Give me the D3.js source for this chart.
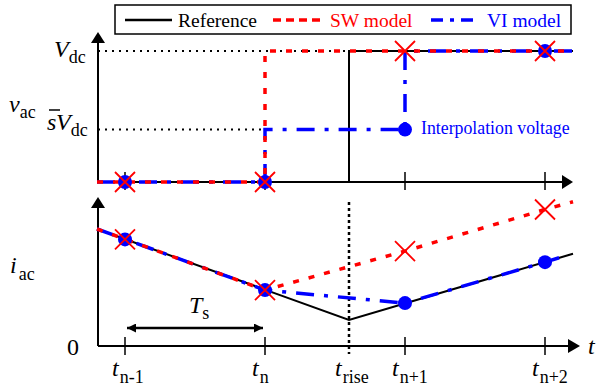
<!DOCTYPE html>
<meta charset="utf-8">
<style>
body { margin: 0; background: #fff; }
text { font-family: "Liberation Serif", "Times New Roman", serif; }
</style>
<svg width="599" height="389"></svg>
<script src="https://d3js.org/d3.v7.min.js"></script>
<script>

// sample instants (t_n-1 = 1, t_n = 2, ...), t_rise between t_n and t_n+1
var sampleTimes = [1, 2, 3, 4];
var sampleLabels = ["n-1", "n", "n+1", "n+2"];
var tRise = 2.6;

// ac voltage (normalised to Vdc)
var refVoltage = [[0.8, 0], [2.6, 0], [2.6, 1], [4.2, 1]];
var swVoltage = [[0.8, 0], [2, 0], [2, 1], [4.2, 1]];
var viVoltage = [[0.8, 0], [2, 0], [2, 0.4], [3, 0.4], [3, 1], [4.2, 1]];
var swVoltageSamples = [0, 0, 1, 1];
var viVoltageSamples = [0, 0, 0.4, 1];
var sVdc = 0.4;

// ac current (arbitrary units)
var refCurrent = [[0.8, 9.0], [2.6, 2.0], [4.2, 7.1]];
var swCurrent = [[0.8, 9.0], [2, 4.3], [3, 7.3], [4, 10.5], [4.2, 11.1]];
var viCurrent = [[0.8, 9.0], [2, 4.3], [3, 3.3], [4, 6.45], [4.15, 6.95]];
var swCurrentSamples = [8.2, 4.3, 7.3, 10.5];
var viCurrentSamples = [8.2, 4.3, 3.3, 6.45];

var svg = d3.select("svg");
var RED = "#ff0000", BLUE = "#0000ff";

var x = d3.scaleLinear().domain([1, 4]).range([125, 545]);
var yV = d3.scaleLinear().domain([0, 1]).range([182, 51]);
var yI = d3.scaleLinear().domain([0, 9]).range([346, 229]);

svg.append("defs").append("marker")
    .attr("id", "head")
    .attr("viewBox", "0 0 10 10")
    .attr("refX", 10).attr("refY", 5)
    .attr("markerWidth", 11).attr("markerHeight", 9)
    .attr("markerUnits", "userSpaceOnUse")
    .attr("orient", "auto-start-reverse")
  .append("path").attr("d", "M0,0L10,5L0,10Z").attr("fill", "#000");

function arrowAxis(x1, y1, x2, y2, tipLen, half) {
  var dx = x2 - x1, dy = y2 - y1, L = Math.sqrt(dx * dx + dy * dy);
  var ux = dx / L, uy = dy / L;
  svg.append("line").attr("x1", x1).attr("y1", y1)
      .attr("x2", x2 - ux * tipLen).attr("y2", y2 - uy * tipLen)
      .attr("stroke", "#000").attr("stroke-width", 2);
  var bx = x2 - ux * tipLen, by = y2 - uy * tipLen;
  svg.append("path")
      .attr("d", "M" + x2 + "," + y2 + "L" + (bx - uy * half) + "," + (by + ux * half) +
                 "L" + (bx + uy * half) + "," + (by - ux * half) + "Z")
      .attr("fill", "#000");
}

var lineV = d3.line().x(function(d) { return x(d[0]); }).y(function(d) { return yV(d[1]); });
var lineI = d3.line().x(function(d) { return x(d[0]); }).y(function(d) { return yI(d[1]); });

// ---- guides
svg.append("line").attr("x1", 98).attr("x2", x(tRise)).attr("y1", yV(1)).attr("y2", yV(1))
    .attr("stroke", "#000").attr("stroke-width", 2).attr("stroke-dasharray", "2,5");
svg.append("line").attr("x1", 98).attr("x2", x(2)).attr("y1", yV(sVdc)).attr("y2", yV(sVdc))
    .attr("stroke", "#000").attr("stroke-width", 2).attr("stroke-dasharray", "2,5");
svg.append("line").attr("x1", x(tRise)).attr("x2", x(tRise)).attr("y1", 202).attr("y2", 354)
    .attr("stroke", "#000").attr("stroke-width", 2.5).attr("stroke-dasharray", "3,3");

// ---- axes
arrowAxis(98, yV(0), 573, yV(0), 11, 7);
arrowAxis(98, yV(0), 98, 32, 11, 7);
arrowAxis(98, yI(0), 580, yI(0), 12, 7);
arrowAxis(98, yI(0), 98, 197, 11, 7);

sampleTimes.forEach(function(t) {
  svg.append("line").attr("x1", x(t)).attr("x2", x(t)).attr("y1", 172).attr("y2", 190)
      .attr("stroke", "#000").attr("stroke-width", 1.5);
  svg.append("line").attr("x1", x(t)).attr("x2", x(t)).attr("y1", 337).attr("y2", 355)
      .attr("stroke", "#000").attr("stroke-width", 1.5);
});

// ---- series
function drawSeries(line, ref, sw, vi) {
  svg.append("path").datum(ref).attr("d", line).attr("fill", "none")
      .attr("stroke", "#000").attr("stroke-width", 2);
  svg.append("path").datum(vi).attr("d", line).attr("fill", "none")
      .attr("stroke", BLUE).attr("stroke-width", 3.5).attr("stroke-dasharray", "18,10,4,10");
  svg.append("path").datum(sw).attr("d", line).attr("fill", "none")
      .attr("stroke", RED).attr("stroke-width", 3.5).attr("stroke-dasharray", "6,10");
}
drawSeries(lineV, refVoltage, swVoltage, viVoltage);
drawSeries(lineI, refCurrent, swCurrent, viCurrent);

function markers(y, viVals, swVals) {
  sampleTimes.forEach(function(t, i) {
    svg.append("circle").attr("cx", x(t)).attr("cy", y(viVals[i])).attr("r", 7).attr("fill", BLUE);
  });
  sampleTimes.forEach(function(t, i) {
    var cx = x(t), cy = y(swVals[i]), s = 10;
    svg.append("path")
        .attr("d", "M" + (cx - s) + "," + (cy - s) + "L" + (cx + s) + "," + (cy + s) +
                   "M" + (cx - s) + "," + (cy + s) + "L" + (cx + s) + "," + (cy - s))
        .attr("stroke", RED).attr("stroke-width", 1.8);
  });
}
markers(yV, viVoltageSamples, swVoltageSamples);
markers(yI, viCurrentSamples, swCurrentSamples);

svg.append("text").attr("x", 421).attr("y", 134).attr("fill", BLUE)
    .attr("font-size", 17.8).text("Interpolation voltage");

// ---- Ts arrow
svg.append("line").attr("x1", x(1) + 2).attr("x2", x(2) - 2).attr("y1", 328).attr("y2", 328)
    .attr("stroke", "#000").attr("stroke-width", 2.5)
    .attr("marker-start", "url(#head)").attr("marker-end", "url(#head)");

// ---- math labels
function sym(px, py, main, sub, size, subSize, dx, dy, color) {
  var t = svg.append("text").attr("x", px).attr("y", py).attr("fill", color || "#000");
  t.append("tspan").attr("font-style", "italic").attr("font-size", size).text(main);
  if (sub) t.append("tspan").attr("font-size", subSize).attr("dx", dx || 0).attr("dy", dy).text(sub);
  return t;
}
sym(54, 57, "V", "dc", 24, 18, 0, 6);
sym(56, 130, "V", "dc", 24, 18, 0, 6);
sym(47, 130, "s", null, 24);
svg.append("line").attr("x1", 49).attr("x2", 60).attr("y1", 110).attr("y2", 110)
    .attr("stroke", "#000").attr("stroke-width", 1.5);
sym(9, 112, "v", "ac", 24, 18, 0, 6);
sym(10, 273, "i", "ac", 24, 18, 2, 7);
svg.append("text").attr("x", 67).attr("y", 355).attr("font-size", 24).text("0");
sym(189, 313, "T", "s", 24, 18, 0, 6);
sym(588, 354, "t", null, 24);

sampleTimes.forEach(function(t, i) {
  sym(x(t) - 13, 376, "t", sampleLabels[i], 24, 18, 1, 7);
});
sym(x(tRise) - 14, 376, "t", "rise", 24, 18, 1, 7);

// ---- legend
var lg = svg.append("g");
lg.append("rect").attr("x", 115).attr("y", 5).attr("width", 456).attr("height", 29)
    .attr("fill", "#fff").attr("stroke", "#000").attr("stroke-width", 1.5);
lg.append("line").attr("x1", 125).attr("x2", 172).attr("y1", 20).attr("y2", 20)
    .attr("stroke", "#000").attr("stroke-width", 2.5);
lg.append("text").attr("x", 178).attr("y", 27).attr("font-size", 19.5).text("Reference");
lg.append("line").attr("x1", 273).attr("x2", 322).attr("y1", 20).attr("y2", 20)
    .attr("stroke", RED).attr("stroke-width", 3.5).attr("stroke-dasharray", "8,5");
lg.append("text").attr("x", 330).attr("y", 27).attr("font-size", 19.5).attr("fill", RED).text("SW model");
lg.append("line").attr("x1", 431).attr("x2", 479).attr("y1", 20).attr("y2", 20)
    .attr("stroke", BLUE).attr("stroke-width", 3.5).attr("stroke-dasharray", "12,7,4,7");
lg.append("text").attr("x", 487).attr("y", 27).attr("font-size", 19.5).attr("fill", BLUE).text("VI model");

</script>
